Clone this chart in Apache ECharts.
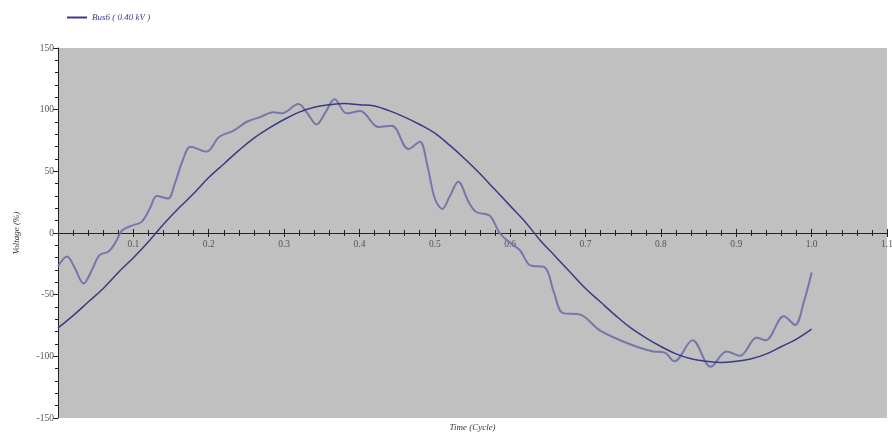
<!DOCTYPE html>
<html>
<head>
<meta charset="utf-8">
<script src="https://cdn.jsdelivr.net/npm/echarts@6/dist/echarts.min.js"></script>
<style>
html,body{margin:0;padding:0;background:#fff;}
#c{width:892px;height:437px;}
</style>
</head>
<body>
<div id="c"></div>
<script>
const seriesName = 'Bus6 ( 0.40 kV )';
const xAxisName = 'Time (Cycle)';
const yAxisName = 'Voltage (%)';

// smooth (fundamental) curve
const tSmooth = [0,0.02,0.04,0.06,0.08,0.10,0.12,0.14,0.16,0.18,0.20,0.22,0.24,0.26,0.28,0.30,0.32,0.34,0.36,0.38,0.40,0.42,0.44,0.46,0.48,0.50,0.52,0.54,0.56,0.58,0.60,0.62,0.64,0.66,0.68,0.70,0.72,0.74,0.76,0.78,0.80,0.82,0.84,0.86,0.88,0.90,0.92,0.94,0.96,0.98,1.00];
const vSmooth = [-77,-67,-56,-45,-32,-20,-7,7,20,32,45,56,67,77,85,92,98,102,104,105,104,103,99,94,88,81,71,60,48,35,22,9,-6,-19,-32,-45,-56,-67,-77,-85,-92,-98,-102,-104,-105,-104,-102,-98,-92,-86,-78];

// distorted curve
const tNoisy = [0,0.012,0.022,0.034,0.045,0.055,0.067,0.076,0.085,0.098,0.111,0.122,0.131,0.146,0.155,0.165,0.176,0.197,0.214,0.233,0.25,0.268,0.286,0.297,0.319,0.331,0.343,0.355,0.367,0.383,0.401,0.425,0.443,0.465,0.48,0.49,0.5,0.51,0.52,0.531,0.545,0.555,0.573,0.586,0.6,0.613,0.626,0.646,0.658,0.67,0.692,0.719,0.75,0.772,0.79,0.805,0.818,0.842,0.866,0.887,0.905,0.927,0.939,0.963,0.978,0.99,1.0];
const vNoisy = [-27,-19,-28,-41,-30,-18,-15,-8,2,6,9,20,30,28,40,58,70,66,78,83,90,94,98,97,104.5,97,88,98,108.5,97,99,86,87,68,74,55,28,19.5,30,41.5,25,17,14,0,-8,-14,-26,-28,-48,-65,-66,-79,-88,-93,-96,-97,-104,-87,-108.5,-96,-99.5,-85,-87,-67.5,-74.5,-55,-32];

const xMin = 0, xMax = 1.1, xStep = 0.1;
const yMin = -150, yMax = 150, yStep = 50;

const smoothData = tSmooth.map((t,i)=>[t,vSmooth[i]]);
const noisyData = tNoisy.map((t,i)=>[t,vNoisy[i]]);

const serif = '"Liberation Serif","DejaVu Serif",serif';
const labelStyle = {fontFamily: serif, fontSize: 9.5, color: '#555'};
const gridTop = 48, gridBottom = 19, chartH = 437;
const gridPos = {left: 58, right: 5, top: gridTop, bottom: gridBottom, outerBoundsMode: 'none'};
const zeroOffset = -(chartH - gridTop - gridBottom) / 2;  // lift x axis to y = 0 (symmetric range)
const axisColor = '#222';

const chart = echarts.init(document.getElementById('c'), null, {renderer:'canvas'});
chart.setOption({
  animation: false,
  backgroundColor: '#fff',
  legend: {
    left: 62, top: 8,
    itemWidth: 20, itemHeight: 2, itemGap: 10,
    data: [{name: seriesName, icon: 'rect', itemStyle: {color: '#3a3a8c'}}],
    textStyle: {fontFamily: serif, fontStyle: 'italic', fontSize: 9, color: '#3a3a8c'}
  },
  grid: [
    Object.assign({show: true, backgroundColor: '#c0c0c0', borderWidth: 0}, gridPos),
    Object.assign({show: false}, gridPos)
  ],
  xAxis: [{
    gridIndex: 0, position: 'bottom', offset: zeroOffset,
    type: 'value', min: xMin, max: xMax, interval: xStep,
    name: xAxisName, nameLocation: 'middle', nameGap: 190,
    nameTextStyle: {fontFamily: serif, fontStyle: 'italic', fontSize: 9, color: '#333'},
    axisLine: {onZero: false, lineStyle: {color: axisColor, width: 1}},
    axisTick: {show: true, length: 4, lineStyle: {color: axisColor}},
    minorTick: {show: true, splitNumber: 5, length: 3, lineStyle: {color: axisColor}},
    splitLine: {show: false},
    axisLabel: Object.assign({margin: 6, formatter: v => (v === 0 ? '' : v.toFixed(1))}, labelStyle)
  },{
    gridIndex: 1, position: 'bottom', offset: zeroOffset,
    type: 'value', min: xMin, max: xMax, interval: xStep,
    axisLine: {onZero: false, lineStyle: {color: axisColor, width: 1}},
    axisTick: {show: true, inside: true, length: 4, lineStyle: {color: axisColor}},
    minorTick: {show: true, splitNumber: 5, length: 3, lineStyle: {color: axisColor}},
    splitLine: {show: false},
    axisLabel: {show: false}
  }],
  yAxis: [{
    gridIndex: 0,
    type: 'value', min: yMin, max: yMax, interval: yStep,
    name: yAxisName, nameLocation: 'middle', nameGap: 37, nameRotate: 90,
    nameTextStyle: {fontFamily: serif, fontStyle: 'italic', fontSize: 9, color: '#333'},
    axisLine: {onZero: false, lineStyle: {color: axisColor, width: 1}},
    axisTick: {show: true, length: 5, lineStyle: {color: axisColor}},
    minorTick: {show: true, splitNumber: 5, length: 3, lineStyle: {color: axisColor}},
    splitLine: {show: false},
    axisLabel: Object.assign({margin: 4}, labelStyle)
  },{
    gridIndex: 1,
    type: 'value', min: yMin, max: yMax, interval: yStep,
    axisLine: {show: false}, axisTick: {show: false}, axisLabel: {show: false},
    splitLine: {show: false}
  }],
  series: [
    {
      name: seriesName, type: 'line', data: noisyData, xAxisIndex: 0, yAxisIndex: 0,
      smooth: 0.35, showSymbol: false, symbol: 'none',
      lineStyle: {color: '#7676ab', width: 2}
    },
    {
      name: seriesName, type: 'line', data: smoothData, xAxisIndex: 0, yAxisIndex: 0,
      smooth: 0.4, showSymbol: false, symbol: 'none',
      lineStyle: {color: '#3a3a86', width: 1.5}
    }
  ]
});
</script>
</body>
</html>
